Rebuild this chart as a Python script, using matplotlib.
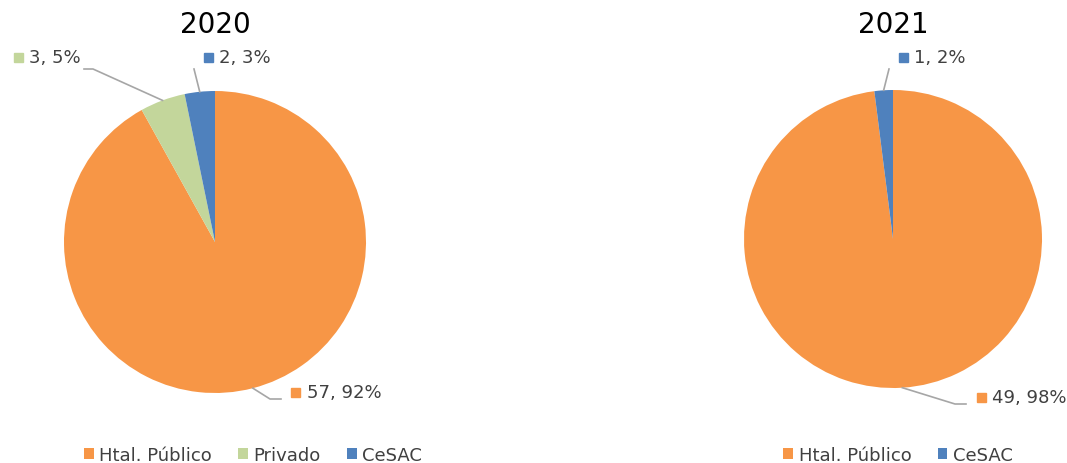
import numpy as np
import matplotlib
matplotlib.use("Agg")
import matplotlib.pyplot as plt
from matplotlib.lines import Line2D
from matplotlib.patches import Rectangle

# data
years = ["2020", "2021"]
labels_2020 = ["Htal. Público", "Privado", "CeSAC"]
values_2020 = [57, 3, 2]
pcts_2020 = ["92%", "5%", "3%"]
labels_2021 = ["Htal. Público", "CeSAC"]
values_2021 = [49, 1]
pcts_2021 = ["98%", "2%"]

colors = {"Htal. Público": "#F79646", "Privado": "#C3D69B", "CeSAC": "#4F81BD"}
TXT = "#404040"
LINE = "#A6A6A6"
W, H = 1067, 464

plt.rcParams["font.family"] = ["DejaVu Sans"]
fig = plt.figure(figsize=(W / 100, H / 100), dpi=100)


def fx(x):
    return x / W


def fy(y):
    return 1 - y / H


def add_pie(cx, cy, r, labels, values, pcts, title, title_y, label_spots, legend_x):
    ax = fig.add_axes([fx(cx - r), fy(cy + r), 2 * r / W, 2 * r / H])
    wedges, _ = ax.pie(values, colors=[colors[l] for l in labels], startangle=90,
                       counterclock=False, radius=1.0)
    ax.set_xlim(-1, 1)
    ax.set_ylim(-1, 1)
    ax.axis("off")
    fig.text(fx(cx), fy(title_y), title, ha="center", va="center",
             fontsize=20, color="black")
    inv = fig.transFigure.inverted()
    for w, lab, v, p, spot in zip(wedges, labels, values, pcts, label_spots):
        ang = np.deg2rad((w.theta1 + w.theta2) / 2)
        ex, ey = inv.transform(ax.transData.transform((np.cos(ang), np.sin(ang))))
        pts, (mx, my) = spot
        xs = [ex] + [fx(p_[0]) for p_ in pts]
        ys = [ey] + [fy(p_[1]) for p_ in pts]
        fig.add_artist(Line2D(xs, ys, color=LINE, lw=1.2, transform=fig.transFigure))
        fig.add_artist(Rectangle((fx(mx - 4.5), fy(my + 4.5)), 9 / W, 9 / H,
                                 color=colors[lab], transform=fig.transFigure))
        fig.text(fx(mx + 11), fy(my), f"{v}, {p}", ha="left", va="center",
                 fontsize=13, color=TXT)
    ax.legend(wedges, labels, loc="center", bbox_to_anchor=(fx(legend_x), fy(456)),
              bbox_transform=fig.transFigure, ncol=len(labels), frameon=False,
              handlelength=0.55, handleheight=0.55, handletextpad=0.3,
              columnspacing=1.45, fontsize=13, labelcolor=TXT)
    return ax


add_pie(215, 243, 151, labels_2020, values_2020, pcts_2020, years[0], 25,
        [([(270, 400), (281, 400)], (296, 393)),
         ([(93, 70), (84, 70)], (18, 58)),
         ([(194, 70)], (208, 58))],
        253)

add_pie(893, 240, 149, labels_2021, values_2021, pcts_2021, years[1], 25,
        [([(955, 405), (966, 405)], (981, 398)),
         ([(889, 70)], (903, 58))],
        898)

fig.savefig("out.png", dpi=100)
